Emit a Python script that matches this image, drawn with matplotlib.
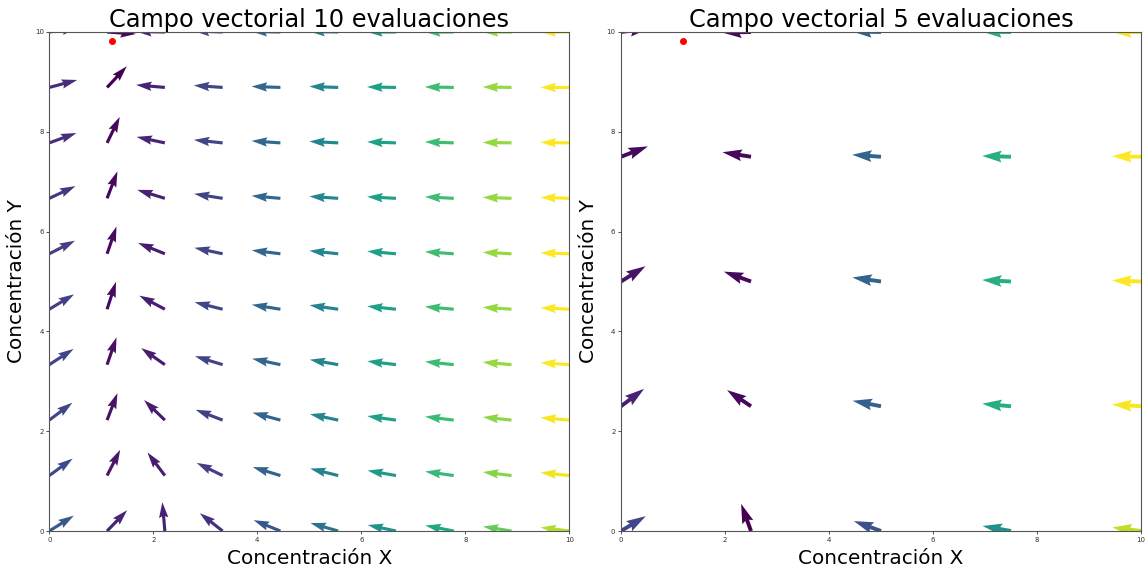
import numpy as np
import matplotlib
matplotlib.use("Agg")
import matplotlib.pyplot as plt

# Grid values (concentrations)
grid_10 = np.linspace(0, 10, 10)
grid_5 = np.linspace(0, 10, 5)

# Direction of the field at each grid node, degrees (rows: Y from 0 up, cols: X from 0 right)
angles_10 = [
    [32, 46, 95, 142, 158, 164, 168, 169, 171, 173],
    [36, 63, 127, 154, 163, 166, 170, 172, 173, 174],
    [37, 69, 136, 159, 165, 168, 172, 173, 174, 175],
    [33, 71, 145, 163, 168, 170, 173, 174, 175, 176],
    [31, 72, 152, 166, 171, 172, 174, 175, 176, 177],
    [27, 71, 158, 168, 173, 174, 175, 176, 177, 178],
    [25, 69, 163, 171, 175, 176, 177, 177, 178, 178],
    [20, 64, 168, 174, 176, 177, 178, 178, 179, 179],
    [15, 47, 175, 176, 178, 178, 179, 179, 179, 180],
    [8, -4, 179, 178, 179, 179, 180, 180, 180, 180],
]

# Relative magnitude of the field (colour scale 0..1)
magnitude_10 = [
    [0.28, 0.10, 0.09, 0.14, 0.27, 0.38, 0.50, 0.60, 0.76, 0.88],
    [0.22, 0.06, 0.08, 0.18, 0.31, 0.44, 0.55, 0.67, 0.82, 0.98],
    [0.21, 0.05, 0.08, 0.19, 0.32, 0.45, 0.56, 0.68, 0.83, 0.99],
    [0.20, 0.04, 0.08, 0.20, 0.33, 0.45, 0.56, 0.68, 0.84, 1.00],
    [0.19, 0.03, 0.08, 0.20, 0.33, 0.45, 0.57, 0.69, 0.84, 1.00],
    [0.18, 0.03, 0.08, 0.20, 0.33, 0.46, 0.57, 0.69, 0.84, 1.00],
    [0.16, 0.02, 0.09, 0.20, 0.33, 0.46, 0.57, 0.69, 0.84, 1.00],
    [0.14, 0.02, 0.10, 0.20, 0.33, 0.46, 0.57, 0.69, 0.84, 1.00],
    [0.13, 0.00, 0.10, 0.21, 0.33, 0.46, 0.57, 0.69, 0.84, 1.00],
    [0.11, 0.02, 0.10, 0.21, 0.33, 0.46, 0.57, 0.69, 0.84, 1.00],
]

angles_5 = [
    [31, 110, 160, 170, 173],
    [37, 146, 169, 175, 176.5],
    [32, 160, 172, 177, 178],
    [21, 171, 176, 178.5, 179],
    [8, 181, 179, 179.5, 180],
]

magnitude_5 = [
    [0.21, 0.00, 0.25, 0.50, 0.90],
    [0.09, 0.02, 0.31, 0.62, 0.99],
    [0.05, 0.02, 0.32, 0.63, 1.00],
    [0.03, 0.02, 0.32, 0.63, 1.00],
    [0.02, 0.02, 0.32, 0.63, 1.00],
]

# Marked state
point_x = 1.2
point_y = 9.82

titles = ["Campo vectorial 10 evaluaciones", "Campo vectorial 5 evaluaciones"]
xlabel = "Concentración X"
ylabel = "Concentración Y"
ticks = [0, 2, 4, 6, 8, 10]

W, H = 1146, 569
fig = plt.figure(figsize=(W / 100, H / 100), dpi=100)
ax_left = fig.add_axes([49.3 / W, (H - 531) / H, 520 / W, 499 / H])
ax_right = fig.add_axes([621 / W, (H - 531) / H, 520 / W, 499 / H])

panels = [
    (ax_left, grid_10, angles_10, magnitude_10, titles[0]),
    (ax_right, grid_5, angles_5, magnitude_5, titles[1]),
]

for ax, grid, ang, mag, title in panels:
    X, Y = np.meshgrid(grid, grid)
    theta = np.deg2rad(np.array(ang, dtype=float))
    U = np.cos(theta)
    V = np.sin(theta)
    C = np.array(mag, dtype=float)
    ax.quiver(X, Y, U, V, C, cmap="viridis", clim=(0, 1))
    ax.plot(point_x, point_y, "o", color="red", markersize=4)
    ax.set_xlim(0, 10)
    ax.set_ylim(0, 10)
    ax.set_xticks(ticks)
    ax.set_yticks(ticks)
    ax.tick_params(labelsize=5, length=2, width=0.6, pad=2, colors="#333333")
    for sp in ax.spines.values():
        sp.set_color("#555555")
        sp.set_linewidth(0.8)
    ax.set_title(title, fontsize=17.3, pad=2)
    ax.set_xlabel(xlabel, fontsize=14.4, labelpad=5)
    ax.set_ylabel(ylabel, fontsize=14.4, labelpad=6)

fig.savefig("out.png", dpi=100)
